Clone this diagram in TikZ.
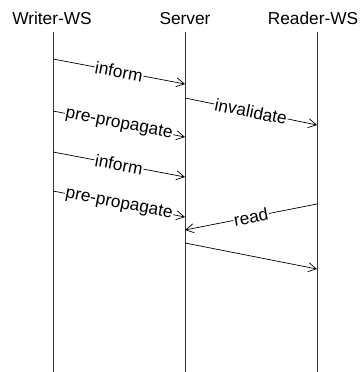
\documentclass[tikz,border=0pt]{standalone}
\usepackage{fontspec}
\setmainfont{Liberation Sans}
\usetikzlibrary{arrows.meta}
\begin{document}
\begin{tikzpicture}[x=1pt,y=-1pt,
  every node/.style={font=\fontsize{17.3}{20}\selectfont},
  lifeline/.style={line width=0.8pt,black!80},
  msg/.style={line width=0.7pt,-{Straight Barb[length=8pt,width=9pt,line width=0.7pt]}},
  lbl/.style={fill=white,inner sep=0.8pt,sloped,midway}]
\useasboundingbox (0,0) rectangle (361,372);
\node[anchor=center] (w) at (52,18.5) {Writer-WS};
\node[anchor=center] (s) at (185,18.5) {Server};
\node[anchor=center] (r) at (313,18.5) {Reader-WS};
\coordinate (wt) at (53,32); \coordinate (wb) at (53,372);
\coordinate (st) at (185,32); \coordinate (sb) at (185,372);
\coordinate (rt) at (317,32); \coordinate (rb) at (317,372);
\draw[lifeline] (wt) -- (wb);
\draw[lifeline] (st) -- (sb);
\draw[lifeline] (rt) -- (rb);
% message end points
\coordinate (a1) at (53,59);   \coordinate (b1) at (185,84);
\coordinate (a2) at (185,98);  \coordinate (b2) at (317,125);
\coordinate (a3) at (53,111);  \coordinate (b3) at (185,137);
\coordinate (a4) at (53,152);  \coordinate (b4) at (185,177);
\coordinate (a5) at (53,191);  \coordinate (b5) at (185,217);
\coordinate (a6) at (317,204); \coordinate (b6) at (185,230);
\coordinate (a7) at (185,243); \coordinate (b7) at (317,269);
\draw[msg] (a1) -- node[lbl] {inform} (b1);
\draw[msg] (a2) -- node[lbl] {invalidate} (b2);
\draw[msg] (a3) -- node[lbl] {pre-propagate} (b3);
\draw[msg] (a4) -- node[lbl] {inform} (b4);
\draw[msg] (a5) -- node[lbl] {pre-propagate} (b5);
\draw[msg] (a6) -- node[lbl] {read} (b6);
\draw[msg] (a7) -- (b7);
\end{tikzpicture}
\end{document}
